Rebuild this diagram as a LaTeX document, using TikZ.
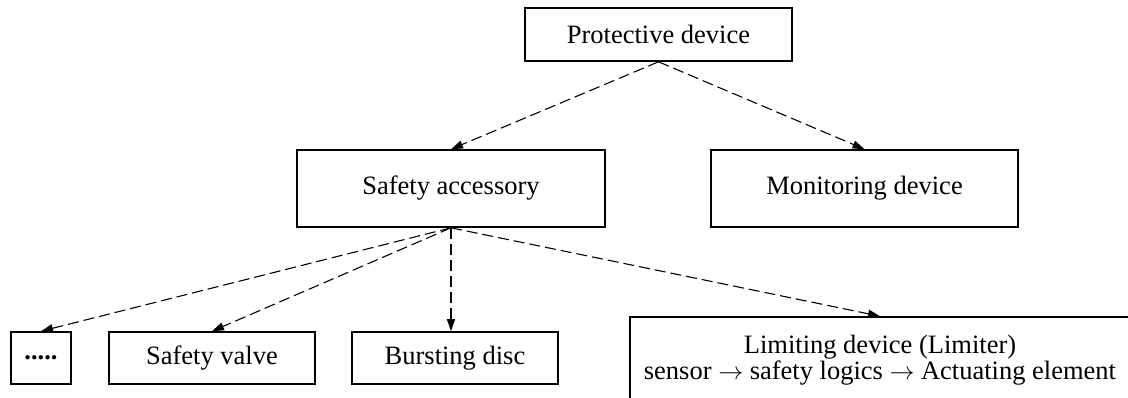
\documentclass[tikz,border=0pt]{standalone}
\usepackage{fontspec}
\setmainfont{Liberation Serif}
\usetikzlibrary{arrows.meta}
\begin{document}
\begin{tikzpicture}[x=1pt,y=-1pt,
  box/.style={draw,line width=1.6pt,inner sep=0pt,align=center,
    font=\fontsize{26.5}{26}\selectfont},
  conn/.style={line width=1.1pt,dash pattern=on 11pt off 5pt,
    -{Triangle[length=12pt,width=8pt]}}]
\useasboundingbox (0,0) rectangle (1128,397);
\clip (0,0) rectangle (1128,397);
\node[box,minimum width=267pt,minimum height=53pt] (prot) at (658.5,34.5) {Protective device};
\node[box,minimum width=308pt,minimum height=77pt] (safe) at (451,188.5) {Safety accessory};
\node[box,minimum width=307pt,minimum height=77pt] (mon) at (864.5,188.5) {Monitoring device};
\node[box,minimum width=60pt,minimum height=52pt] (dots) at (41,358) {\textbf{.....}};
\node[box,minimum width=206pt,minimum height=52pt] (valve) at (212,358) {Safety valve};
\node[box,minimum width=206pt,minimum height=52pt] (burst) at (455,358) {Bursting disc};
\node[box,minimum width=500pt,minimum height=86pt] (lim) at (880,360) {Limiting device (Limiter)\\sensor $\rightarrow$ safety logics $\rightarrow$ Actuating element};
\draw[conn] (prot.south) -- (safe.north);
\draw[conn] (prot.south) -- (mon.north);
\draw[conn] (safe.south) -- (dots.north);
\draw[conn] (safe.south) -- (valve.north);
\draw[conn] (safe.south) -- (safe.south |- burst.north);
\draw[conn] (safe.south) -- (lim.north);
\end{tikzpicture}
\end{document}
